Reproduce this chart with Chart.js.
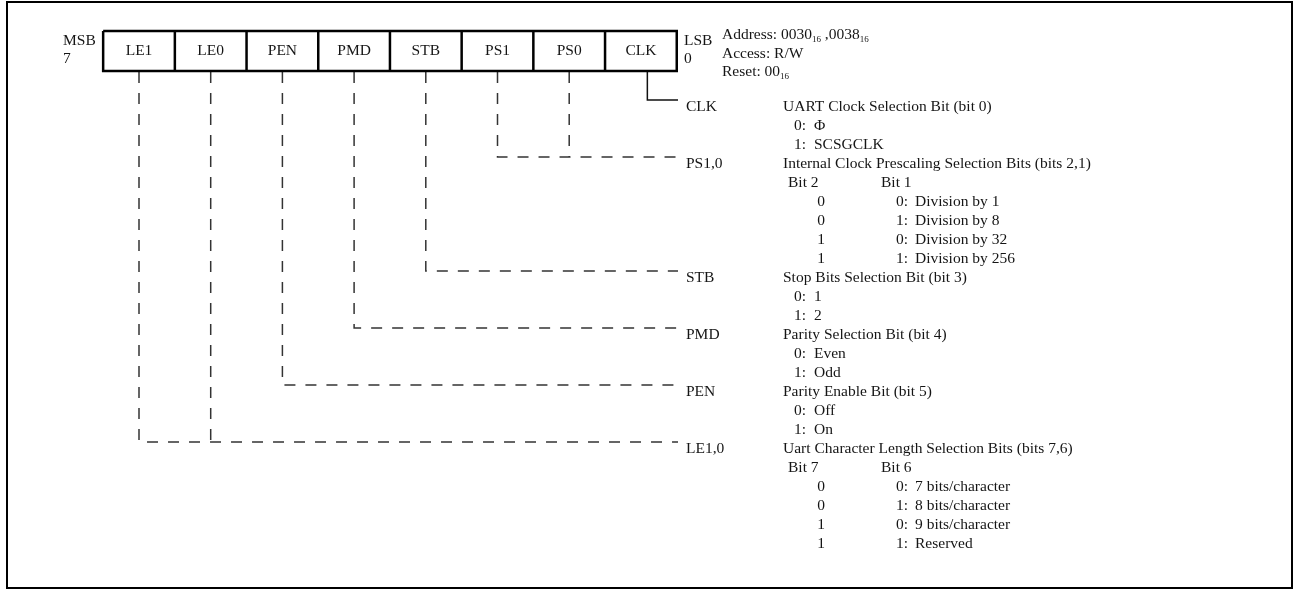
<!DOCTYPE html>
<html>
<head>
<meta charset="utf-8">
<script src="https://cdn.jsdelivr.net/npm/chart.js@4/dist/chart.umd.min.js"></script>
<style>
  body { margin: 0; background: #fff; }
  #wrap { position: relative; width: 1298px; height: 590px; }
  #frame { position: absolute; left: 6px; top: 1px; width: 1287px; height: 588px; box-sizing: border-box; border: 2px solid #000; }
  canvas { position: absolute; left: 0; top: 0; }
</style>
</head>
<body>
<div id="wrap">
  <div id="frame"></div>
  <canvas id="myChart" width="1298" height="590"></canvas>
</div>
<script>
"use strict";

// register bits, left = bit 7
const bitNames = ["LE1", "LE0", "PEN", "PMD", "STB", "PS1", "PS0", "CLK"];
const msbLabel = ["MSB", "7"];
const lsbLabel = ["LSB", "0"];
// [text, isSubscript]
const registerInfo = [
  [["Address: 0030", 0], ["16", 1], [" ,0038", 0], ["16", 1]],
  [["Access: R/W", 0]],
  [["Reset: 00", 0], ["16", 1]]
];

const fieldNames = ["CLK", "PS1,0", "STB", "PMD", "PEN", "LE1,0"];
const fieldBits = [["CLK"], ["PS1", "PS0"], ["STB"], ["PMD"], ["PEN"], ["LE1", "LE0"]];
const fieldTitles = [
  "UART Clock Selection Bit (bit 0)",
  "Internal Clock Prescaling Selection Bits (bits 2,1)",
  "Stop Bits Selection Bit (bit 3)",
  "Parity Selection Bit (bit 4)",
  "Parity Enable Bit (bit 5)",
  "Uart Character Length Selection Bits (bits 7,6)"
];
const fieldTableHeads = [null, ["Bit 2", "Bit 1"], null, null, null, ["Bit 7", "Bit 6"]];
// [high bit value, low bit value / key, meaning]
const fieldSettings = [
  [[null, "0:", "\u03A6"], [null, "1:", "SCSGCLK"]],
  [["0", "0:", "Division by 1"], ["0", "1:", "Division by 8"], ["1", "0:", "Division by 32"], ["1", "1:", "Division by 256"]],
  [[null, "0:", "1"], [null, "1:", "2"]],
  [[null, "0:", "Even"], [null, "1:", "Odd"]],
  [[null, "0:", "Off"], [null, "1:", "On"]],
  [["0", "0:", "7 bits/character"], ["0", "1:", "8 bits/character"], ["1", "0:", "9 bits/character"], ["1", "1:", "Reserved"]]
];

// layout: x in cell units (0 = bit 7 cell centre), y in text rows
const W = 1298, H = 590;
const cellPx = 71.7, firstCellPx = 139;
const rowPx = 19, firstRowPx = 107;
const col = (px) => (px - firstCellPx) / cellPx;
const row = (px) => (px - firstRowPx) / rowPx;

const boxTop = row(31), boxBottom = row(71);
const leaderLift = 0.37;
const leaderEnd = col(678);
const solidShift = 0.09;
const cols = {
  msb: col(63), lsb: col(684), info: col(722),
  label: col(686), title: col(783),
  key: col(794), value: col(814),
  head1: col(788), head2: col(881),
  tabHigh: col(821), tabKey: col(896), tabValue: col(915)
};

// rows for each field
const fieldRows = [];
let r = 0;
fieldNames.forEach((name, i) => {
  fieldRows.push(r);
  r += 1 + (fieldTableHeads[i] ? 1 : 0) + fieldSettings[i].length;
});

const datasets = [];
function addLine(points, style) {
  datasets.push(Object.assign({
    data: points,
    showLine: true,
    pointRadius: 0,
    fill: false,
    tension: 0,
    borderColor: "#000",
    borderWidth: 2.5,
    borderJoinStyle: "miter"
  }, style));
}

// register box
addLine([{ x: -0.5, y: boxTop }, { x: 7.5, y: boxTop }, { x: 7.5, y: boxBottom }, { x: -0.5, y: boxBottom }, { x: -0.5, y: boxTop }]);
for (let i = 1; i < bitNames.length; i++) {
  addLine([{ x: i - 0.5, y: boxTop }, { x: i - 0.5, y: boxBottom }]);
}

// leaders from the bits to the field labels
fieldNames.forEach((name, i) => {
  const y = fieldRows[i] - leaderLift;
  const pos = fieldBits[i].map((b) => bitNames.indexOf(b)).sort((a, b) => a - b);
  const solid = name === "CLK";
  const style = solid
    ? { borderColor: "#111", borderWidth: 1.5 }
    : { borderColor: "#333", borderWidth: 1.5, borderDash: [11, 10], borderDashOffset: 20 };
  const x0 = pos[0] + (solid ? solidShift : 0);
  addLine([{ x: x0, y: boxBottom }, { x: x0, y: y }, { x: leaderEnd, y: y }], style);
  for (let k = 1; k < pos.length; k++) {
    addLine([{ x: pos[k], y: boxBottom }, { x: pos[k], y: y }], style);
  }
});

const FONT = "15.5px 'Liberation Serif', 'DejaVu Serif', serif";
const SUB_FONT = "9px 'Liberation Serif', 'DejaVu Serif', serif";

const textPlugin = {
  id: "registerText",
  afterDatasetsDraw(chart) {
    const { ctx, scales: { x, y } } = chart;
    ctx.save();
    ctx.fillStyle = "#151515";
    ctx.textBaseline = "middle";
    ctx.font = FONT;
    const put = (str, xv, yv, align) => {
      ctx.textAlign = align || "left";
      ctx.fillText(str, x.getPixelForValue(xv), y.getPixelForValue(yv));
    };
    const putRich = (parts, xv, yv) => {
      let px = x.getPixelForValue(xv);
      const py = y.getPixelForValue(yv);
      ctx.textAlign = "left";
      parts.forEach(([str, sub]) => {
        ctx.font = sub ? SUB_FONT : FONT;
        ctx.fillText(str, px, sub ? py + 5 : py);
        px += ctx.measureText(str).width;
      });
      ctx.font = FONT;
    };

    const boxMid = (boxTop + boxBottom) / 2;
    bitNames.forEach((b, i) => put(b, i, boxMid, "center"));
    put(msbLabel[0], cols.msb, row(41));
    put(msbLabel[1], cols.msb, row(59));
    put(lsbLabel[0], cols.lsb, row(41));
    put(lsbLabel[1], cols.lsb, row(59));
    registerInfo.forEach((parts, i) => putRich(parts, cols.info, row(35 + 18.5 * i)));

    fieldNames.forEach((name, i) => {
      let rr = fieldRows[i];
      put(name, cols.label, rr);
      put(fieldTitles[i], cols.title, rr);
      rr++;
      if (fieldTableHeads[i]) {
        put(fieldTableHeads[i][0], cols.head1, rr);
        put(fieldTableHeads[i][1], cols.head2, rr);
        rr++;
        fieldSettings[i].forEach((s) => {
          put(s[0], cols.tabHigh, rr, "center");
          put(s[1], cols.tabKey, rr);
          put(s[2], cols.tabValue, rr);
          rr++;
        });
      } else {
        fieldSettings[i].forEach((s) => {
          put(s[1], cols.key, rr);
          put(s[2], cols.value, rr);
          rr++;
        });
      }
    });
    ctx.restore();
  }
};

const myChart = new Chart(document.getElementById("myChart"), {
  type: "scatter",
  data: { datasets },
  options: {
    responsive: false,
    animation: false,
    devicePixelRatio: 1,
    layout: { padding: 0 },
    plugins: { legend: { display: false }, tooltip: { enabled: false } },
    scales: {
      x: { type: "linear", display: false, min: col(0), max: col(W) },
      y: { type: "linear", display: false, reverse: true, min: row(0), max: row(H) }
    }
  },
  plugins: [textPlugin]
});
</script>
</body>
</html>
